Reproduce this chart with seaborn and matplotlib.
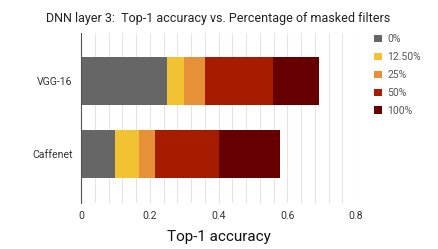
import numpy as np
import pandas as pd
import matplotlib
matplotlib.use("Agg")
import matplotlib.pyplot as plt
import seaborn as sns
from matplotlib.patches import Patch

models = ["VGG-16", "Caffenet"]
levels = ["0%", "12.50%", "25%", "50%", "100%"]
# segment widths per masking level (stacked)
vgg16 = [0.251, 0.048, 0.063, 0.197, 0.132]
caffenet = [0.100, 0.068, 0.048, 0.185, 0.177]
colors = ["#666666", "#f1c232", "#e69138", "#a61c00", "#660000"]
xticks = [0, 0.2, 0.4, 0.6, 0.8]
xticklabels = ["0", "0.2", "0.4", "0.6", "0.8"]

sns.set_style("white")
plt.rcParams["font.family"] = ["Roboto", "DejaVu Sans"]

df = pd.DataFrame({"model": np.repeat(models, len(levels)),
                   "level": levels * len(models),
                   "value": vgg16 + caffenet})
df["cum"] = df.groupby("model", sort=False)["value"].cumsum()

fig = plt.figure(figsize=(4.38, 2.49), dpi=100)
ax = fig.add_axes([0.185, 0.185, 0.628, 0.683])

# draw the cumulative bars from longest to shortest so they stack visually
for lvl, col in reversed(list(zip(levels, colors))):
    sub = df[df["level"] == lvl]
    sns.barplot(data=sub, x="cum", y="model", order=models, color=col,
                width=0.65, saturation=1, edgecolor="none", ax=ax, zorder=3)

ax.set_xlim(0, 0.8)
ax.set_ylim(1.67, -0.66)
ax.set_xticks(np.arange(0, 0.81, 0.04), minor=True)
ax.set_xticks(xticks)
ax.set_xticklabels(xticklabels)
ax.grid(axis="x", which="both", color="#e4e4e4", lw=0.8, zorder=0)
ax.tick_params(axis="both", length=0, labelsize=7.6, colors="#333333", pad=6)
for s in ["top", "right", "bottom"]:
    ax.spines[s].set_visible(False)
ax.spines["left"].set_color("#555555")
ax.spines["left"].set_linewidth(0.8)
ax.spines["left"].set_zorder(4)

ax.set_ylabel("")
ax.set_xlabel("Top-1 accuracy", fontsize=11, color="#111111", labelpad=6)
ax.set_title("DNN layer 3:  Top-1 accuracy vs. Percentage of masked filters",
             fontsize=9, color="#222222", pad=8)

handles = [Patch(facecolor=c, edgecolor="none") for c in colors]
fig.legend(handles, levels, loc="upper left", bbox_to_anchor=(0.855, 0.862),
           frameon=False, fontsize=7.5, handlelength=0.7, handleheight=0.7,
           handletextpad=0.55, labelspacing=0.75, borderpad=0,
           borderaxespad=0, labelcolor="#555555")

fig.savefig("out.png", dpi=100)
